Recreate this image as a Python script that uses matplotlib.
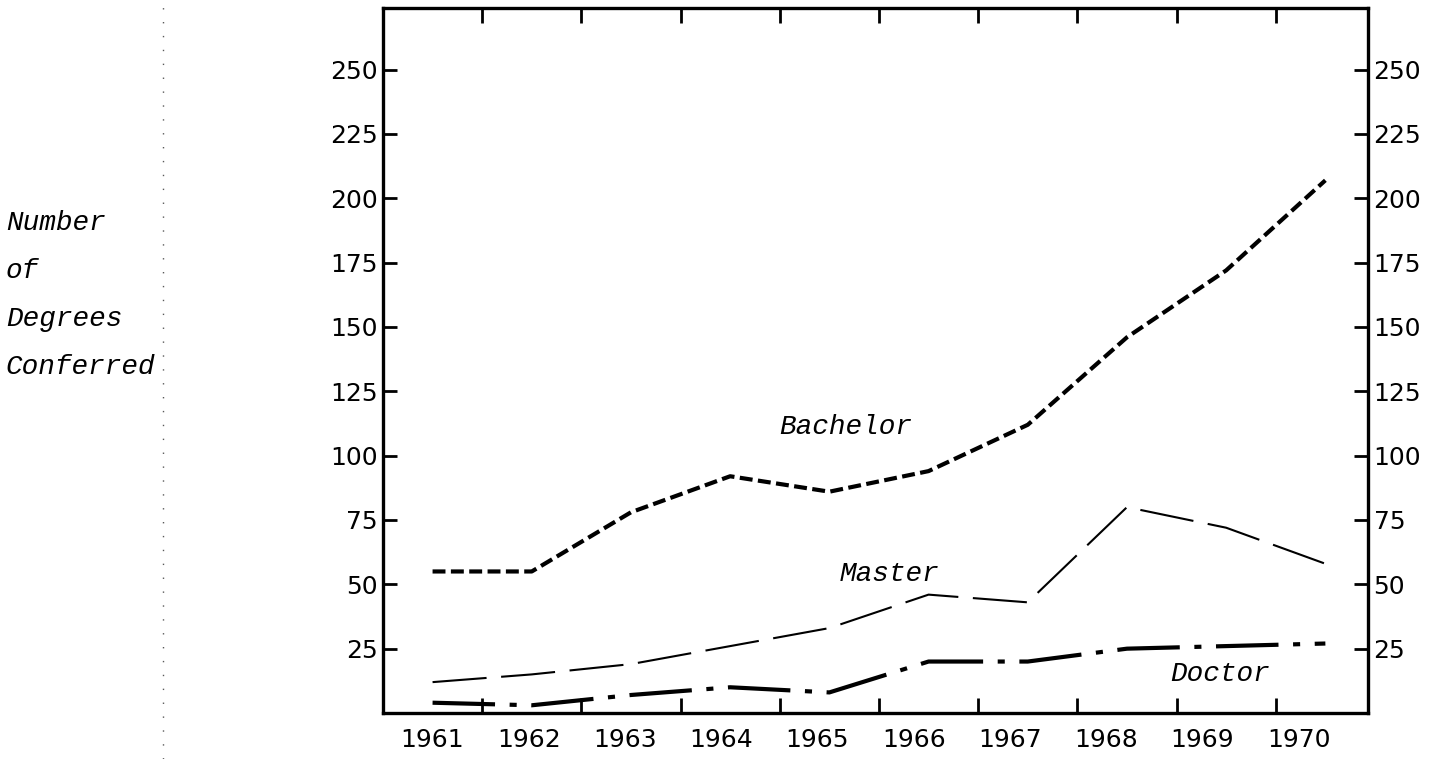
import matplotlib.pyplot as plt
import numpy as np
from matplotlib.lines import Line2D
from matplotlib.ticker import FixedLocator

# Degrees conferred per year
years = np.arange(1961, 1971)
bachelor = [55, 55, 78, 92, 86, 94, 112, 146, 172, 207]
master = [12, 15, 19, 26, 33, 46, 43, 80, 72, 58]
doctor = [4, 3, 7, 10, 8, 20, 20, 25, 26, 27]
y_ticks = [25, 50, 75, 100, 125, 150, 175, 200, 225, 250]
ylabel_lines = ['Number', 'of', 'Degrees', 'Conferred']

typewriter = dict(family='Liberation Mono', style='italic', fontsize=20)

fig = plt.figure(figsize=(14.37, 7.59), dpi=100)
ax = fig.add_axes([0.2665, 0.0606, 0.6855, 0.929])

ax.plot(years, bachelor, color='black', lw=3.0, linestyle=(0, (3.1, 1.3)))
ax.plot(years, master, color='black', lw=1.5, linestyle=(0, (26, 7)))
ax.plot(years, doctor, color='black', lw=3.0, linestyle=(0, (15, 3.5, 1.7, 3.5)))

ax.text(1964.49, 111, 'Bachelor', ha='left', va='center', **typewriter)
ax.text(1965.61, 54, 'Master', ha='center', va='center', **typewriter)
ax.text(1968.94, 15, 'Doctor', ha='center', va='center', **typewriter)

ax.set_xlim(1960.5, 1970.43)
ax.set_ylim(0, 274)

# the typed year labels drift a little left of the plotted years
ax.set_xticks(1961 + (years - 1961) * 0.97)
ax.set_xticklabels([str(y) for y in years])
ax.xaxis.set_minor_locator(FixedLocator(years[:-1] + 0.5))
ax.set_yticks(y_ticks)

ax.tick_params(axis='x', which='major', length=0, labelsize=18, pad=11)
ax.tick_params(axis='x', which='minor', direction='in', length=11, width=2,
               top=True, bottom=True)
ax.tick_params(axis='y', which='major', direction='in', length=10, width=2,
               left=True, right=True, labelleft=True, labelright=True,
               labelsize=18, pad=4)
for side in ax.spines.values():
    side.set_linewidth(2.4)

# "Number of Degrees Conferred", typed one word per line at the left
for i, word in enumerate(ylabel_lines):
    fig.text(0.004, 0.706 - i * 0.063, word, ha='left', va='center', **typewriter)

# faint dotted fold line of the scanned page
fig.add_artist(Line2D([0.1134, 0.1134], [0, 1], transform=fig.transFigure,
                      color='0.35', lw=1, linestyle=(0, (1, 9))))

plt.savefig('out.png', dpi=100)
